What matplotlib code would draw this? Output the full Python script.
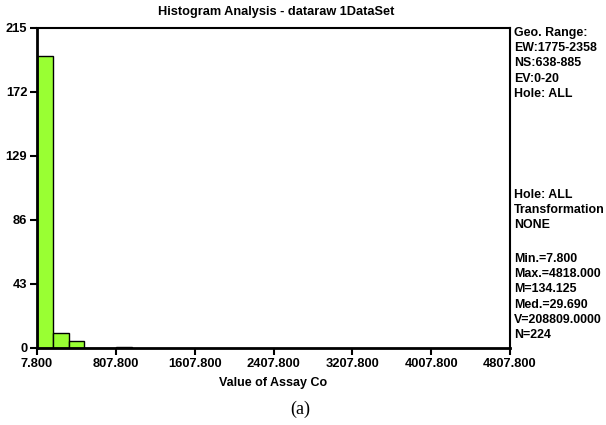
import numpy as np
import matplotlib.pyplot as plt

bin_edges = [7.8, 167.8, 327.8, 487.8, 647.8, 807.8, 967.8]
counts = [196, 10, 5, 0, 0, 1]
x_ticks = [7.8, 807.8, 1607.8, 2407.8, 3207.8, 4007.8, 4807.8]
y_ticks = [0, 43, 86, 129, 172, 215]
info_top = ["Geo. Range:", "EW:1775-2358", "NS:638-885", "EV:0-20", "Hole: ALL"]
info_mid = ["Hole: ALL", "Transformation", "NONE"]
info_stats = ["Min.=7.800", "Max.=4818.000", "M=134.125", "Med.=29.690",
              "V=208809.0000", "N=224"]

plt.rcParams["font.family"] = "Liberation Sans"

fig = plt.figure(figsize=(6.06, 4.25), dpi=100)
ax = fig.add_axes([37 / 606, 1 - 348 / 425, (510 - 37) / 606, (348 - 28) / 425])

lefts = np.array(bin_edges[:-1])
widths = np.diff(bin_edges)
ax.bar(lefts, counts, width=widths, align="edge", color="#99ff33",
       edgecolor="black", linewidth=1.0)

ax.set_xlim(7.8, 4807.8)
ax.set_ylim(0, 215)
ax.set_xticks(x_ticks)
ax.set_xticklabels([f"{v:.3f}" for v in x_ticks])
ax.set_yticks(y_ticks)
ax.set_yticklabels([str(v) for v in y_ticks])
ax.tick_params(direction="out", length=5, width=1.5, labelsize=9.3, pad=2)
for lab in ax.get_xticklabels() + ax.get_yticklabels():
    lab.set_fontweight("bold")
for side in ["left", "bottom"]:
    ax.spines[side].set_linewidth(2)
for side in ["top", "right"]:
    ax.spines[side].set_linewidth(1.5)

fig.text(276 / 606, 1 - 12 / 425, "Histogram Analysis - dataraw 1DataSet",
         ha="center", va="center", fontsize=9.2, fontweight="bold")
fig.text(273 / 606, 1 - 383 / 425, "Value of Assay Co",
         ha="center", va="center", fontsize=9, fontweight="bold")
fig.text(300 / 606, 1 - 409 / 425, "(a)", ha="center", va="center",
         fontsize=13, family="Liberation Serif")

def info_block(lines, y0):
    for i, s in enumerate(lines):
        fig.text(514 / 606, 1 - (y0 + i * 15.2) / 425, s, ha="left", va="center",
                 fontsize=8.9, fontweight="bold")

info_block(info_top, 33)
info_block(info_mid, 195)
info_block(info_stats, 259)

fig.savefig("out.png", dpi=100)
